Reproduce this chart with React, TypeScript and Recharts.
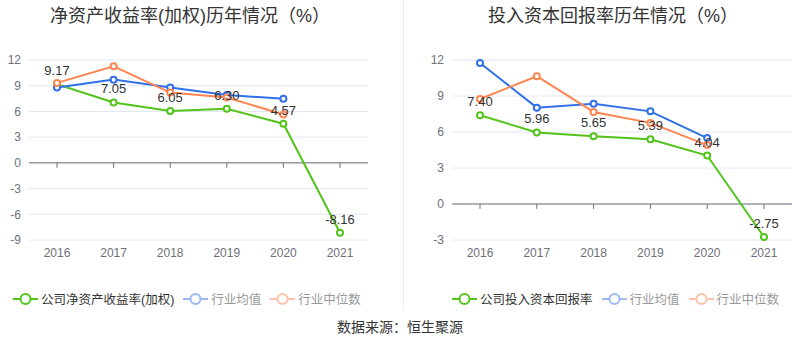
import React from 'react';
import { LineChart, Line, XAxis, YAxis, CartesianGrid, ReferenceLine, LabelList } from 'recharts';

const years = ['2016', '2017', '2018', '2019', '2020', '2021'];

const roeCompany = [9.17, 7.05, 6.05, 6.3, 4.57, -8.16];
const roeMean = [8.78, 9.71, 8.78, 7.93, 7.47, null];
const roeMedian = [9.33, 11.27, 8.2, 7.62, 5.65, null];
const roeTicks = [-9, -6, -3, 0, 3, 6, 9, 12];

const roicCompany = [7.4, 5.96, 5.65, 5.39, 4.04, -2.75];
const roicMean = [11.75, 8.03, 8.36, 7.72, 5.49, null];
const roicMedian = [8.75, 10.65, 7.67, 6.76, 4.91, null];
const roicTicks = [-3, 0, 3, 6, 9, 12];

const GREEN = '#52C41A';
const BLUE = '#3070E8';
const ORANGE = '#FF8552';
const AXIS = '#6E7079';
const FONT = '"Liberation Sans", Arial, "Noto Sans CJK SC", sans-serif';

const build = (company: number[], mean: (number | null)[], median: (number | null)[]) =>
  years.map((year, i) => ({ year, company: company[i], mean: mean[i], median: median[i] }));

interface PanelProps {
  data: { year: string; company: number; mean: number | null; median: number | null }[];
  ticks: number[];
  yWidth: number;
  rightMargin: number;
  tickDrop: number;
}

const Panel: React.FC<PanelProps> = ({ data, ticks, yWidth, rightMargin, tickDrop }) => {
  const dot = (color: string) => ({ r: 3, fill: '#fff', stroke: color, strokeWidth: 2 });
  return (
    <LineChart width={400} height={275} data={data} margin={{ top: 60, right: rightMargin, bottom: 5, left: 0 }}>
      <CartesianGrid vertical={false} stroke="#E0E6F1" />
      <XAxis
        dataKey="year"
        axisLine={false}
        tickLine={false}
        padding={{ left: 28, right: 28 }}
        height={30}
        tick={{ fill: AXIS, fontSize: 12 }}
        interval={0}
      />
      <YAxis
        type="number"
        domain={[ticks[0], ticks[ticks.length - 1]]}
        ticks={ticks}
        width={yWidth}
        axisLine={false}
        tickLine={false}
        tick={{ fill: AXIS, fontSize: 12 }}
        interval={0}
      />
      <ReferenceLine y={0} stroke={AXIS} strokeWidth={1} />
      {years.map((y) => (
        <ReferenceLine key={y} segment={[{ x: y, y: 0 }, { x: y, y: -tickDrop }]} stroke={AXIS} />
      ))}
      <Line dataKey="company" stroke={GREEN} strokeWidth={2} dot={dot(GREEN)} isAnimationActive={false} />
      <Line dataKey="mean" stroke={BLUE} strokeWidth={2} dot={dot(BLUE)} isAnimationActive={false} />
      <Line dataKey="median" stroke={ORANGE} strokeWidth={2} dot={dot(ORANGE)} isAnimationActive={false} />
      <Line dataKey="company" stroke="none" dot={false} activeDot={false} legendType="none" isAnimationActive={false}>
        <LabelList
          dataKey="company"
          position="top"
          offset={9}
          fill="#333"
          fontSize={13}
          formatter={(v: any) => Number(v).toFixed(2)}
        />
      </Line>
    </LineChart>
  );
};

const LegendItem: React.FC<{ color: string; text: string; textColor: string }> = ({ color, text, textColor }) => (
  <div style={{ display: 'flex', alignItems: 'center', marginRight: 9 }}>
    <svg width={25} height={14} style={{ marginRight: 3 }}>
      <line x1={0} y1={7} x2={25} y2={7} stroke={color} strokeWidth={2} />
      <circle cx={12.5} cy={7} r={5} fill="#fff" stroke={color} strokeWidth={2} />
    </svg>
    <span style={{ color: textColor, fontSize: 12.5 }}>{text}</span>
  </div>
);

const Legend: React.FC<{ left: number; name: string }> = ({ left, name }) => (
  <div style={{ position: 'absolute', left, top: 289, display: 'flex', fontFamily: FONT, whiteSpace: 'nowrap' }}>
    <LegendItem color={GREEN} text={name} textColor="#333" />
    <LegendItem color="#9DB9F5" text="行业均值" textColor="#999" />
    <LegendItem color="#FFC2A8" text="行业中位数" textColor="#999" />
  </div>
);

const titleStyle: React.CSSProperties = {
  position: 'absolute',
  top: 1,
  fontSize: 18,
  color: '#333',
  fontFamily: FONT,
  whiteSpace: 'nowrap',
};

export default function App() {
  const roeData = build(roeCompany, roeMean, roeMedian);
  const roicData = build(roicCompany, roicMean, roicMedian);
  return (
    <div style={{ position: 'absolute', left: 0, top: 0, width: 800, height: 358, background: '#fff', fontFamily: FONT }}>
      <div style={{ ...titleStyle, left: 50 }}>净资产收益率(加权)历年情况（%）</div>
      <div style={{ ...titleStyle, left: 488 }}>投入资本回报率历年情况（%）</div>
      <div style={{ position: 'absolute', left: 403, top: 0, width: 1, height: 310, background: '#EEEEEE' }} />
      <div style={{ position: 'absolute', left: 0, top: 0 }}>
        <Panel data={roeData} ticks={roeTicks} yWidth={29} rightMargin={32} tickDrop={0.58} />
      </div>
      <div style={{ position: 'absolute', left: 400, top: 0 }}>
        <Panel data={roicData} ticks={roicTicks} yWidth={52} rightMargin={8} tickDrop={0.41} />
      </div>
      <Legend left={13} name="公司净资产收益率(加权)" />
      <Legend left={452} name="公司投入资本回报率" />
      <div style={{ position: 'absolute', left: 0, width: 800, top: 316, textAlign: 'center', fontSize: 14, color: '#333' }}>
        数据来源：恒生聚源
      </div>
    </div>
  );
}
